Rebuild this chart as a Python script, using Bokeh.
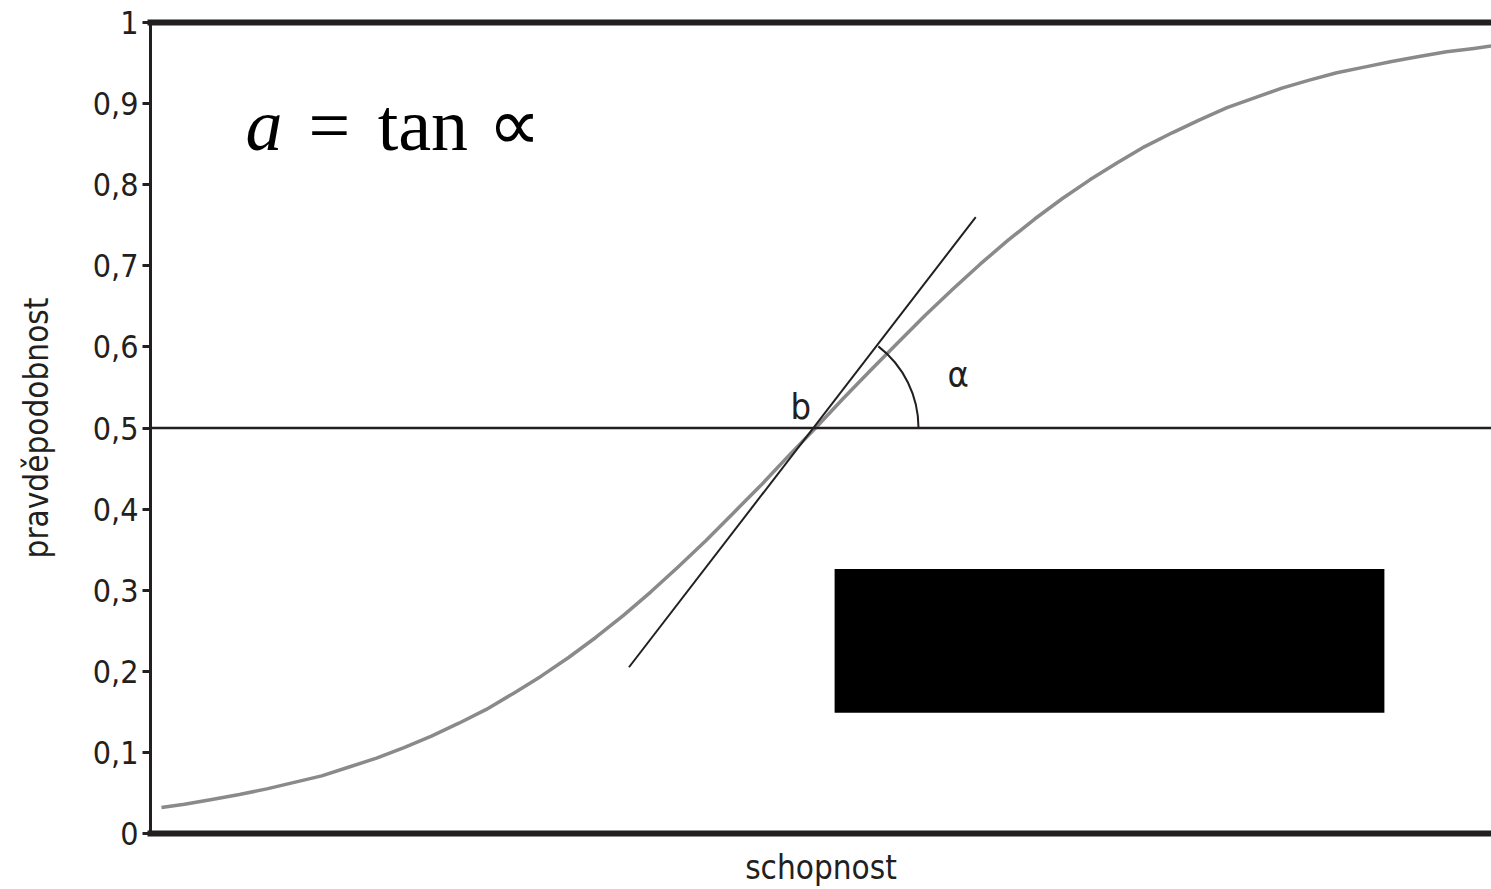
from bokeh.plotting import figure
from bokeh.models import LinearAxis, FixedTicker, Span, Range1d
from bokeh.core.properties import value
from bokeh.embed import file_html
from bokeh.resources import INLINE

# ability (theta) and probability
theta = [-2.98, -2.875, -2.75, -2.625, -2.5, -2.375, -2.25, -2.125, -2.0, -1.875, -1.75, -1.625,
         -1.5, -1.375, -1.25, -1.125, -1.0, -0.875, -0.75, -0.625, -0.5, -0.375, -0.25, -0.125,
         0.0, 0.125, 0.25, 0.375, 0.5, 0.625, 0.75, 0.875, 1.0, 1.125, 1.25, 1.375,
         1.5, 1.625, 1.75, 1.875, 2.0, 2.125, 2.25, 2.375, 2.5, 2.625, 2.75, 2.875, 3.0, 3.08]
prob = [0.032, 0.036, 0.042, 0.048, 0.055, 0.063, 0.071, 0.082, 0.093, 0.106, 0.120, 0.136,
        0.153, 0.173, 0.194, 0.217, 0.242, 0.269, 0.298, 0.329, 0.361, 0.395, 0.429, 0.465,
        0.500, 0.536, 0.571, 0.605, 0.639, 0.671, 0.702, 0.731, 0.758, 0.783, 0.806, 0.827,
        0.847, 0.864, 0.880, 0.895, 0.907, 0.919, 0.929, 0.938, 0.945, 0.952, 0.958, 0.964, 0.968, 0.971]

# tangent at the difficulty point b
tangent_x = [-0.85, 0.73]
tangent_y = [0.205, 0.760]
b_point = (0.0, 0.5)
alpha_deg = 52.4

y_ticks = [0, 0.1, 0.2, 0.3, 0.4, 0.5, 0.6, 0.7, 0.8, 0.9, 1]
y_labels = ["0", "0,1", "0,2", "0,3", "0,4", "0,5", "0,6", "0,7", "0,8", "0,9", "1"]

# redaction box (x0, x1, y0, y1)
box = (0.087, 2.592, 0.149, 0.326)

INK = "#231f20"
SANS = "DejaVu Sans Condensed"

p = figure(width=1491, height=889, output_backend="svg", toolbar_location=None,
           x_range=Range1d(-3.03, 3.08), y_range=Range1d(0, 1),
           min_border_left=150, min_border_right=0, min_border_top=22, min_border_bottom=54,
           x_axis_location=None, y_axis_location=None)
p.outline_line_color = None
p.background_fill_color = "white"
p.border_fill_color = "white"

left = LinearAxis(ticker=FixedTicker(ticks=y_ticks),
                  major_label_overrides={t: l for t, l in zip(y_ticks, y_labels)},
                  axis_label="pravděpodobnost")
left.axis_line_width = 3
left.axis_line_color = INK
left.major_tick_line_color = INK
left.major_tick_line_width = 3
left.major_tick_out = 8
left.major_tick_in = 0
left.minor_tick_line_color = None
left.major_label_standoff = 4
left.major_label_text_font = SANS
left.major_label_text_font_size = "32px"
left.major_label_text_color = INK
left.axis_label_text_font = SANS
left.axis_label_text_font_size = "33px"
left.axis_label_text_font_style = "normal"
left.axis_label_text_color = INK
left.axis_label_standoff = 34
p.add_layout(left, "left")

below = LinearAxis(ticker=FixedTicker(ticks=[]), axis_label="schopnost")
below.axis_line_width = 6
below.axis_line_color = INK
below.axis_line_cap = "square"
below.major_tick_out = 0
below.major_tick_in = 0
below.minor_tick_line_color = None
below.major_label_standoff = 0
below.major_label_text_font_size = "0px"
below.axis_label_text_font = SANS
below.axis_label_text_font_size = "33px"
below.axis_label_text_font_style = "normal"
below.axis_label_text_color = INK
below.axis_label_standoff = 14
p.add_layout(below, "below")

above = LinearAxis(ticker=FixedTicker(ticks=[]))
above.axis_line_width = 6
above.axis_line_color = INK
above.axis_line_cap = "square"
above.major_tick_out = 0
above.major_tick_in = 0
above.minor_tick_line_color = None
above.major_label_standoff = 0
above.major_label_text_font_size = "0px"
p.add_layout(above, "above")

p.grid.visible = False

p.add_layout(Span(location=b_point[1], dimension="width", line_color=INK, line_width=2.5))

p.line(theta, prob, line_color="#8a8a8a", line_width=3.5, line_join="round")
p.line(tangent_x, tangent_y, line_color=INK, line_width=2)
p.arc(x=[b_point[0]], y=[b_point[1]], radius=103, radius_units="screen",
      start_angle=0, end_angle=alpha_deg, start_angle_units="deg", end_angle_units="deg",
      line_color=INK, line_width=2)

p.quad(left=[box[0]], right=[box[1]], bottom=[box[2]], top=[box[3]],
       fill_color="black", line_color=None)

# labels
p.text(x=[-0.114], y=[0.526], text=["b"], text_font=value(SANS), text_font_size="36px",
       text_color=INK, text_baseline="alphabetic", text_align="left")
p.text(x=[0.601], y=[0.566], text=["α"], text_font=value(SANS), text_font_size="36px",
       text_color=INK, text_baseline="alphabetic", text_align="left")

# formula a = tan ∝
p.text(x=[-2.597], y=[0.874], text=["a"], text_font=value("Liberation Serif"),
       text_font_style="italic", text_font_size="74px", text_color="black",
       text_baseline="alphabetic", text_align="left")
p.text(x=[-2.310, -1.995, -1.490], y=[0.874, 0.874, 0.874], text=["=", "tan", "∝"],
       text_font=value("Liberation Serif"), text_font_size="74px", text_color="black",
       text_baseline="alphabetic", text_align="left")

open("out.html", "w").write(file_html(p, INLINE))
